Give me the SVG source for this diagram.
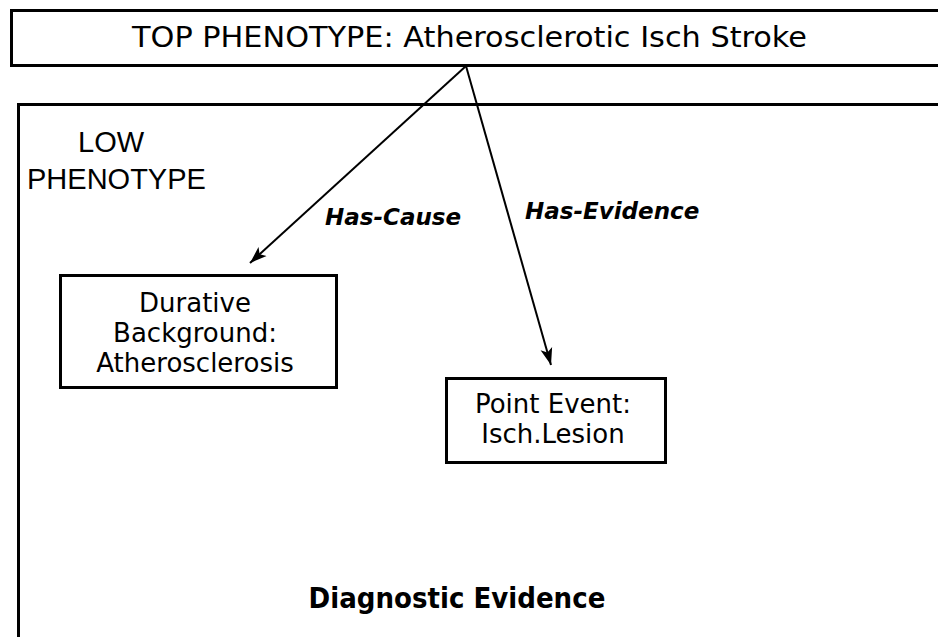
<svg xmlns="http://www.w3.org/2000/svg" width="938" height="637" viewBox="0 0 938 637">
  <defs>
    <marker id="arrow" viewBox="0 0 18 14" refX="17" refY="7" markerWidth="18" markerHeight="14" markerUnits="userSpaceOnUse" orient="auto">
      <path d="M0,1 L17,7 L0,13 L4,7 Z" fill="#000"/>
    </marker>
    <style>
      .box { fill: #fff; stroke: #000; stroke-width: 3; }
      .lbl { font-family: "DejaVu Sans", Verdana, sans-serif; font-size: 26px; fill: #000; text-anchor: middle; }
      .edge { stroke: #000; stroke-width: 2; fill: none; marker-end: url(#arrow); }
      .elbl { font-family: "DejaVu Sans", Verdana, sans-serif; font-size: 23px; font-weight: bold; font-style: italic; fill: #000; }
    </style>
  </defs>
  <rect width="938" height="637" fill="#fff"/>

  <g id="top-phenotype">
    <rect class="box" x="11.5" y="10.5" width="940" height="55"/>
    <text x="132" y="47" textLength="675" lengthAdjust="spacingAndGlyphs" style="font-family:'DejaVu Sans',Verdana,sans-serif;font-size:28px">TOP PHENOTYPE: Atherosclerotic Isch Stroke</text>
  </g>

  <g id="low-phenotype">
    <rect class="box" x="18.5" y="104.5" width="940" height="560"/>
    <text style="font-family:'Liberation Sans',Arial,sans-serif;font-size:29px"><tspan x="78" y="152">LOW</tspan><tspan x="27" y="189">PHENOTYPE</tspan></text>
    <text x="457" y="608" style="font-family:'DejaVu Sans Condensed','DejaVu Sans',sans-serif;font-size:29px;font-weight:bold;text-anchor:middle">Diagnostic Evidence</text>
  </g>

  <g id="durative">
    <rect class="box" x="60.5" y="275.5" width="276" height="112"/>
    <text class="lbl" x="195" y="312">Durative</text>
    <text class="lbl" x="195" y="342">Background:</text>
    <text class="lbl" x="195" y="372">Atherosclerosis</text>
  </g>

  <g id="point-event">
    <rect class="box" x="446.5" y="378.5" width="219" height="84"/>
    <text class="lbl" x="553" y="413">Point Event:</text>
    <text class="lbl" x="553" y="443">Isch.Lesion</text>
  </g>

  <g id="connectors">
    <line class="edge" x1="466" y1="66" x2="250" y2="263"/>
    <line class="edge" x1="466" y1="66" x2="551" y2="365"/>
    <text class="elbl" x="325" y="225">Has-Cause</text>
    <text class="elbl" x="525" y="219">Has-Evidence</text>
  </g>
</svg>
